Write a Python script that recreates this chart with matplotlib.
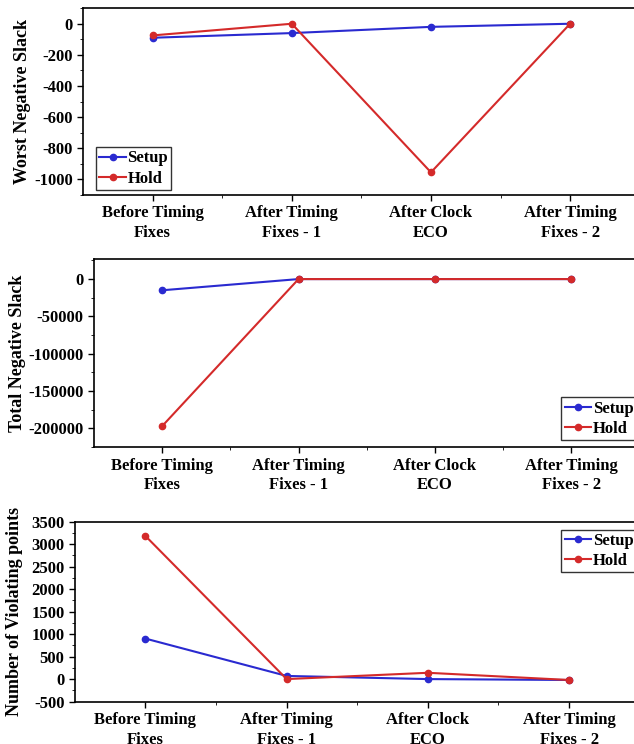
import matplotlib
matplotlib.use("Agg")
import matplotlib.pyplot as plt
from matplotlib.ticker import AutoMinorLocator, FixedLocator

plt.rcParams['font.family'] = ['Liberation Serif', 'DejaVu Serif']
plt.rcParams['font.weight'] = 'bold'

#data
stages = ["Before Timing\nFixes", "After Timing\nFixes - 1", "After Clock\nECO", "After Timing\nFixes - 2"]
wns_setup = [-90, -60, -20, 0]
wns_hold = [-75, 0, -955, 0]
tns_setup = [-15000, 0, 0, 0]
tns_hold = [-197000, 0, 0, 0]
vio_setup = [900, 70, 0, -20]
vio_hold = [3180, 0, 140, -20]

setup_color = "#2a2ad0"
hold_color = "#d42a2a"
x = [1, 2, 3, 4]

fig = plt.figure(figsize=(6.34, 7.44), dpi=100)

def draw_panel(rect, setup, hold, ylabel, label_x, ylim, yticks, legend_loc, legend_anchor):
  ax = fig.add_axes(rect)
  ax.plot(x, setup, color=setup_color, lw=1.5, marker="o", ms=4.5, label="Setup")
  ax.plot(x, hold, color=hold_color, lw=1.5, marker="o", ms=4.5, label="Hold")
  ax.set_xlim(0.5, 4.5)
  ax.set_ylim(*ylim)
  ax.set_xticks(x)
  ax.set_xticklabels(stages, fontsize=12, fontweight="bold", linespacing=1.3)
  ax.xaxis.set_minor_locator(FixedLocator([1.5, 2.5, 3.5]))
  ax.set_yticks(yticks)
  ax.set_yticklabels([str(v) for v in yticks], fontsize=12, fontweight="bold")
  ax.yaxis.set_minor_locator(AutoMinorLocator(2))
  ax.tick_params(direction="out", length=4, width=1)
  ax.tick_params(which="minor", direction="out", length=2.5)
  ax.set_ylabel(ylabel, fontsize=13, fontweight="bold")
  ax.yaxis.set_label_coords(label_x, 0.5)
  for sp in ax.spines.values():
    sp.set_linewidth(1.2)
  leg = ax.legend(loc=legend_loc, bbox_to_anchor=legend_anchor, fontsize=12,
                  frameon=True, fancybox=False, edgecolor="black",
                  handlelength=1.6, handletextpad=0.1, borderpad=0.2,
                  labelspacing=0.25, borderaxespad=0.0)
  leg.get_frame().set_linewidth(1.0)
  for t in leg.get_texts():
    t.set_fontweight("bold")
  return ax

#Worst Negative Slack
draw_panel([0.131, 0.738, 0.878, 0.251], wns_setup, wns_hold,
           "Worst Negative Slack", -0.093, (-1100, 100),
           [0, -200, -400, -600, -800, -1000], "lower left", (0.023, 0.027))
#Total Negative Slack
draw_panel([0.148, 0.399, 0.861, 0.253], tns_setup, tns_hold,
           "Total Negative Slack", -0.125, (-225000, 27000),
           [0, -50000, -100000, -150000, -200000], "lower right", (0.995, 0.037))
#Number of Violating points
draw_panel([0.118, 0.057, 0.891, 0.242], vio_setup, vio_hold,
           "Number of Violating points", -0.092, (-500, 3500),
           [3500, 3000, 2500, 2000, 1500, 1000, 500, 0, -500], "upper right", (0.995, 0.955))

plt.savefig("out.png", dpi=100)
